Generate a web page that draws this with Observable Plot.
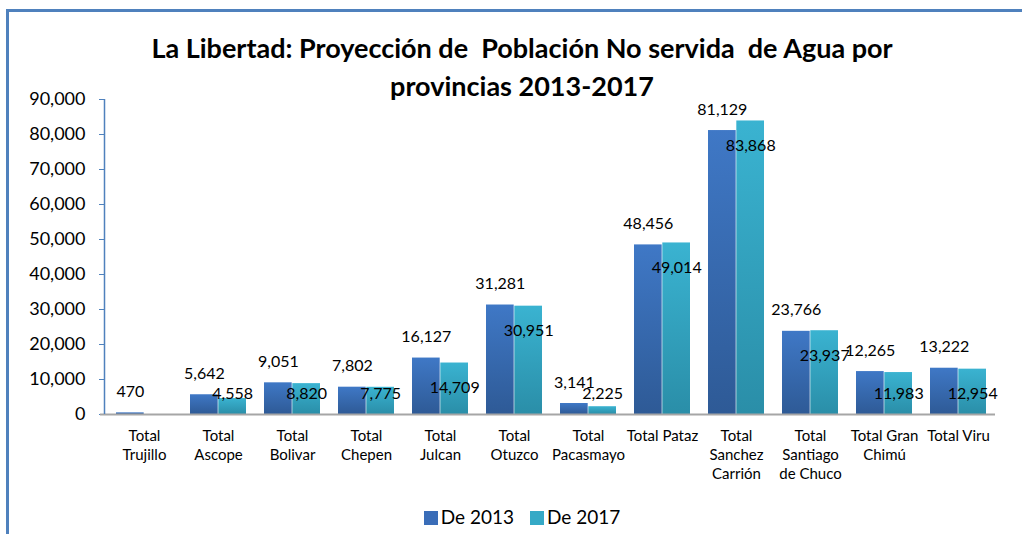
<!DOCTYPE html>
<html>
<head>
<meta charset="utf-8">
<script src="https://cdn.jsdelivr.net/npm/d3@7"></script>
<script src="https://cdn.jsdelivr.net/npm/@observablehq/plot@0.6"></script>
<style>
  html, body { margin: 0; padding: 0; background: #fff; }
  #wrap { position: relative; width: 1022px; height: 534px; overflow: hidden; font-family: Lato, "DejaVu Sans", sans-serif; }
  #frameTop { position: absolute; left: 6px; top: 9px; width: 1016px; height: 3px; background: #4F81BD; }
  #frameLeft { position: absolute; left: 6px; top: 9px; width: 3px; height: 525px; background: #4F81BD; }
  .tline { position: absolute; left: 522px; transform: translateX(-50%); font-weight: 700; font-size: 27px; line-height: 28px; white-space: pre; color: #000; }
  #chart { position: absolute; left: 0; top: 0; }
  #legend { position: absolute; left: 0; width: 1044px; top: 505px; text-align: center; font-size: 19px; color: #000; }
  .sw { display: inline-block; width: 14px; height: 14px; vertical-align: -1px; margin-right: 3px; }
  .item { margin: 0 8px; }
</style>
</head>
<body>
<div id="wrap">
  <div id="chart"></div>
  <div id="frameTop"></div>
  <div id="frameLeft"></div>
  <div id="t1" class="tline" style="top:34px"></div>
  <div id="t2" class="tline" style="top:72px"></div>
  <div id="legend"></div>
</div>
<script>
const titleLines = ["La Libertad: Proyección de  Población No servida  de Agua por", "provincias 2013-2017"];
const categories = ["Total Trujillo","Total Ascope","Total Bolivar","Total Chepen","Total Julcan","Total Otuzco","Total Pacasmayo","Total Pataz","Total Sanchez Carrión","Total Santiago de Chuco","Total Gran Chimú","Total Viru"];
const tickLabels = ["Total\nTrujillo","Total\nAscope","Total\nBolivar","Total\nChepen","Total\nJulcan","Total\nOtuzco","Total\nPacasmayo","Total Pataz","Total\nSanchez\nCarrión","Total\nSantiago\nde Chuco","Total Gran\nChimú","Total Viru"];
const series = ["De 2013", "De 2017"];
const values2013 = [470, 5642, 9051, 7802, 16127, 31281, 3141, 48456, 81129, 23766, 12265, 13222];
const values2017 = [0, 4558, 8820, 7775, 14709, 30951, 2225, 49014, 83868, 23937, 11983, 12954];
const yTicks = [0, 10000, 20000, 30000, 40000, 50000, 60000, 70000, 80000, 90000];
const colors = {"De 2013": "#3A6DB8", "De 2017": "#35A9C6"};

document.getElementById("t1").textContent = titleLines[0];
document.getElementById("t2").textContent = titleLines[1];

const d13 = categories.map((c, i) => ({cat: c, value: values2013[i]}));
const d17 = categories.map((c, i) => ({cat: c, value: values2017[i]}));
const labelMap = new Map(categories.map((c, i) => [c, tickLabels[i]]));
const fmt = d3.format(",");

const W = 1022, H = 500, ML = 104, MR = 24;
const pInner = 0.24, pOuter = 0.12;
const step = (W - ML - MR) / (categories.length - pInner + 2 * pOuter);
const half = step * (1 - pInner) / 2;

const plot = Plot.plot({
  width: W,
  height: H,
  marginLeft: ML,
  marginRight: MR,
  marginTop: 99,
  marginBottom: 86,
  style: {fontFamily: "Lato, 'DejaVu Sans', sans-serif", color: "#000", background: "transparent"},
  x: {domain: categories, paddingInner: pInner, paddingOuter: pOuter, label: null},
  y: {domain: [0, 90000], label: null},
  marks: [
    Plot.barY(d13, {x: "cat", y: "value", insetLeft: 0, insetRight: half, fill: "url(#g2013)"}),
    Plot.barY(d17, {x: "cat", y: "value", insetLeft: half, insetRight: 0, fill: "url(#g2017)"}),
    Plot.text(d13, {x: "cat", y: "value", dx: -half / 2, dy: -21,
      text: d => fmt(d.value), fontSize: 16, fill: "#000"}),
    Plot.text(d17.filter(d => d.value > 0), {x: "cat", dx: half / 2,
      y: d => Math.max(d.value - 7100, 6000),
      text: d => fmt(d.value), fontSize: 16, fill: "#000"}),
    Plot.axisY({ticks: yTicks, tickSize: 5, tickPadding: 14, fontSize: 18, stroke: "#4F81BD", fill: "#000",
      tickFormat: d => fmt(d), label: null}),
    Plot.axisX({tickSize: 0, tickPadding: 13, fontSize: 15, lineHeight: 1.27,
      tickFormat: d => labelMap.get(d), label: null, fill: "#000"})
  ]
});

const svg = d3.select(plot);
const defs = svg.insert("defs", ":first-child");
function grad(id, c1, c2) {
  const g = defs.append("linearGradient").attr("id", id).attr("x1", 0).attr("y1", 0).attr("x2", 0).attr("y2", 1);
  g.append("stop").attr("offset", "0%").attr("stop-color", c1);
  g.append("stop").attr("offset", "100%").attr("stop-color", c2);
}
grad("g2013", "#3F78C6", "#2E5A96");
grad("g2017", "#3AB3D1", "#2A8EA8");

const y = plot.scale("y");
const y0 = y.apply(0), yTop = y.apply(90000);
svg.append("line").attr("x1", 100).attr("x2", W - 27).attr("y1", y0 + 0.5).attr("y2", y0 + 0.5)
  .attr("stroke", "#A6A6A6").attr("stroke-width", 2);
svg.append("line").attr("x1", ML + 0.5).attr("x2", ML + 0.5).attr("y1", yTop).attr("y2", y0)
  .attr("stroke", "#4F81BD").attr("stroke-width", 1.5);

document.getElementById("chart").appendChild(plot);

const legend = document.getElementById("legend");
series.forEach(s => {
  const span = document.createElement("span");
  span.className = "item";
  span.innerHTML = `<span class="sw" style="background:${colors[s]}"></span>${s}`;
  legend.appendChild(span);
});
</script>
</body>
</html>
